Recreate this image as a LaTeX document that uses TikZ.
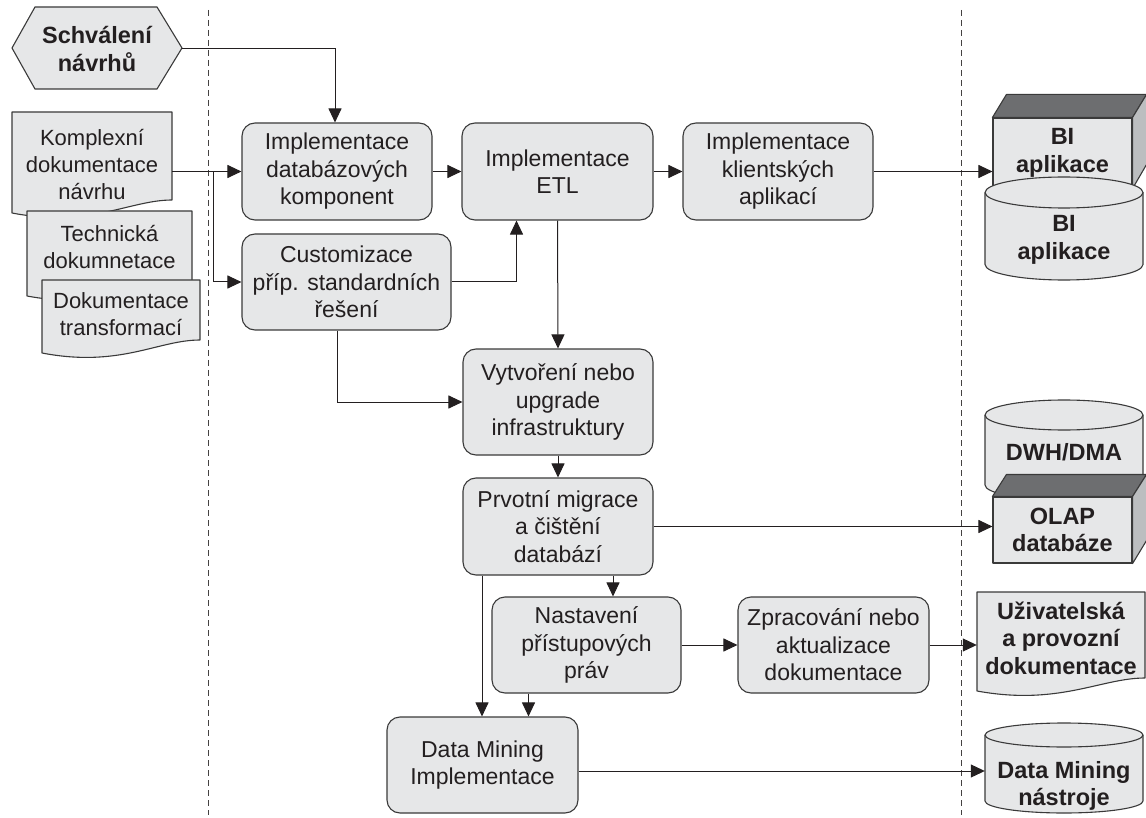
\documentclass[tikz,border=0pt]{standalone}
\usepackage{fontspec}
\setmainfont{Liberation Sans}
\usetikzlibrary{arrows.meta,calc}
\definecolor{boxfill}{HTML}{E6E7E8}
\definecolor{boxline}{HTML}{3A3A3A}
\definecolor{ink}{HTML}{231F20}
\definecolor{cubetop}{HTML}{6D6E70}
\definecolor{cubeside}{HTML}{BCBEC0}
\begin{document}
\begin{tikzpicture}[x=1pt,y=-1pt,
  proc/.style={draw=boxline, fill=boxfill, line width=1.1pt, rounded corners=13pt, align=center, inner sep=0pt, text=ink, font=\fontsize{23}{27.5}\selectfont},
  doctext/.style={align=center, inner sep=0pt, text=ink, font=\fontsize{22}{27}\selectfont},
  boldtext/.style={align=center, inner sep=0pt, text=ink, font=\fontsize{23.5}{27.5}\selectfont\bfseries},
  shp/.style={draw=boxline, fill=boxfill, line width=1.1pt, line join=round},
  arr/.style={draw=ink, line width=1pt, -{Triangle[length=14pt,width=13pt]}},
  divider/.style={draw=ink!85, line width=0.9pt, dash pattern=on 6pt off 4pt}]
\useasboundingbox (0,0) rectangle (1146,818);

% dashed separators
\draw[divider] (208,10) -- (208,815);
\draw[divider] (961,10) -- (961,815);

% hexagon
\path[shp, line join=miter] (12,48) -- (35,7) -- (157,7) -- (182,48) -- (157,89) -- (35,89) -- cycle;
\node[boldtext, minimum width=170pt] (hex) at (97,49) {Schválení\\návrhů};

% documents on the left
\path[shp] (12,112) -- (172,112) -- (172,200) .. controls (130,200) and (90,228) .. (12,213) -- cycle;
\node[doctext, minimum width=160pt] (d1) at (92,165) {Komplexní\\dokumentace\\návrhu};
\path[shp] (27,211) -- (192,211) -- (192,283) .. controls (149,283) and (108,311) .. (27,296) -- cycle;
\node[doctext] (d2) at (109.5,247) {Technická\\dokumnetace};
\path[shp] (42,280) -- (200,280) -- (200,340) .. controls (158,340) and (120,368) .. (42,353) -- cycle;
\node[doctext] (d3) at (121,314) {Dokumentace\\transformací};

% process boxes
\node[proc, minimum width=190pt, minimum height=97pt] (db) at (337,171.5) {Implementace\\databázových\\komponent};
\node[proc, minimum width=191pt, minimum height=97pt] (etl) at (557.5,171.5) {Implementace\\ETL};
\node[proc, minimum width=190pt, minimum height=97pt] (kl) at (778,171.5) {Implementace\\klientských\\aplikací};
\node[proc, minimum width=209pt, minimum height=96pt] (cust) at (346.5,282) {Customizace\\příp. standardních\\řešení};
\node[proc, minimum width=190pt, minimum height=106pt] (vyt) at (558,402) {Vytvoření nebo\\upgrade\\infrastruktury};
\node[proc, minimum width=190pt, minimum height=97pt] (prv) at (558,526.5) {Prvotní migrace\\a čištění\\databází};
\node[proc, minimum width=189pt, minimum height=96pt] (nast) at (586.5,645) {Nastavení\\přístupových\\práv};
\node[proc, minimum width=191pt, minimum height=96pt] (zpr) at (833.5,645) {Zpracování nebo\\aktualizace\\dokumentace};
\node[proc, minimum width=191pt, minimum height=96pt] (dm) at (482.5,765) {Data Mining\\Implementace};

% BI cube
\node[shp, boldtext, minimum width=139pt, minimum height=70pt] (bic) at (1062.5,153) {BI\\aplikace};
\path[shp, fill=cubetop] (bic.north west) -- ++(14,-23) -- ($(bic.north east)+(14,-23)$) -- (bic.north east) -- cycle;
\path[shp, fill=cubeside] (bic.north east) -- ++(14,-23) -- ++(0,70) -- (bic.south east) -- cycle;

% BI cylinder
\path[shp] (985,192.5) -- (985,264.5) arc[start angle=180,end angle=360,x radius=79pt,y radius=15.5pt] -- (1143,192.5) arc[start angle=0,end angle=180,x radius=79pt,y radius=15.5pt] -- cycle;
\draw[boxline, line width=1.1pt] (985,192.5) arc[start angle=180,end angle=360,x radius=79pt,y radius=15.5pt];
\node[boldtext, minimum width=158pt] (bicyl) at (1064,240) {BI\\aplikace};

% DWH cylinder
\path[shp] (985,415) -- (985,485) arc[start angle=180,end angle=360,x radius=79pt,y radius=15pt] -- (1143,415) arc[start angle=0,end angle=180,x radius=79pt,y radius=15pt] -- cycle;
\draw[boxline, line width=1.1pt] (985,415) arc[start angle=180,end angle=360,x radius=79pt,y radius=15pt];
\node[boldtext, minimum width=158pt] (dwh) at (1064,452) {DWH/DMA};

% OLAP cube
\node[shp, boldtext, minimum width=139pt, minimum height=66pt] (olap) at (1062.5,530) {OLAP\\databáze};
\path[shp, fill=cubetop] (olap.north west) -- ++(14,-22) -- ($(olap.north east)+(14,-22)$) -- (olap.north east) -- cycle;
\path[shp, fill=cubeside] (olap.north east) -- ++(14,-22) -- ++(0,66) -- (olap.south east) -- cycle;

% user documentation
\path[shp] (977,592) -- (1145,592) -- (1145,678) .. controls (1101,678) and (1059,706) .. (977,691) -- cycle;
\node[boldtext, minimum width=168pt] (uz) at (1061,638) {Uživatelská\\a provozní\\dokumentace};

% Data Mining cylinder
\path[shp] (985,735) -- (985,801) arc[start angle=180,end angle=360,x radius=79pt,y radius=12pt] -- (1143,735) arc[start angle=0,end angle=180,x radius=79pt,y radius=12pt] -- cycle;
\draw[boxline, line width=1.1pt] (985,735) arc[start angle=180,end angle=360,x radius=79pt,y radius=12pt];
\node[boldtext, minimum width=158pt] (dmc) at (1064,786) {Data Mining\\nástroje};

% connectors
\draw[arr] (hex.east) -| ($(db.north)+(-2,0)$);
\draw[arr] (d1.east |- db.west) -- (db.west);
\coordinate (br) at ($(d1.east |- db.west)+(41,0)$);
\draw[arr] (br) |- (cust.west);
\draw[arr] (db.east) -- (etl.west);
\draw[arr] (etl.east) -- (kl.west);
\draw[arr] (kl.east) -- (kl.east -| bic.west);
\draw[arr] (cust.east) -| ($(etl.south)+(-41,0)$);
\draw[arr] (etl.south) -- (vyt.north);
\draw[arr] ($(cust.south)+(-9.5,0)$) |- (vyt.west);
\draw[arr] (vyt.south) -- (prv.north);
\draw[arr] (prv.east) -- (prv.east -| olap.west);
\coordinate (p1) at ($(prv.south)+(55,0)$);
\draw[arr] (p1) -- (p1 |- nast.north);
\coordinate (p2) at ($(prv.south)+(-76,0)$);
\draw[arr] (p2) -- (p2 |- dm.north);
\coordinate (p3) at ($(nast.south)+(-58,0)$);
\draw[arr] (p3) -- (p3 |- dm.north);
\draw[arr] (nast.east) -- (zpr.west);
\draw[arr] (zpr.east) -- (zpr.east -| uz.west);
\coordinate (p4) at ($(dm.east)+(0,6)$);
\draw[arr] (p4) -- (p4 -| dmc.west);
\end{tikzpicture}
\end{document}
